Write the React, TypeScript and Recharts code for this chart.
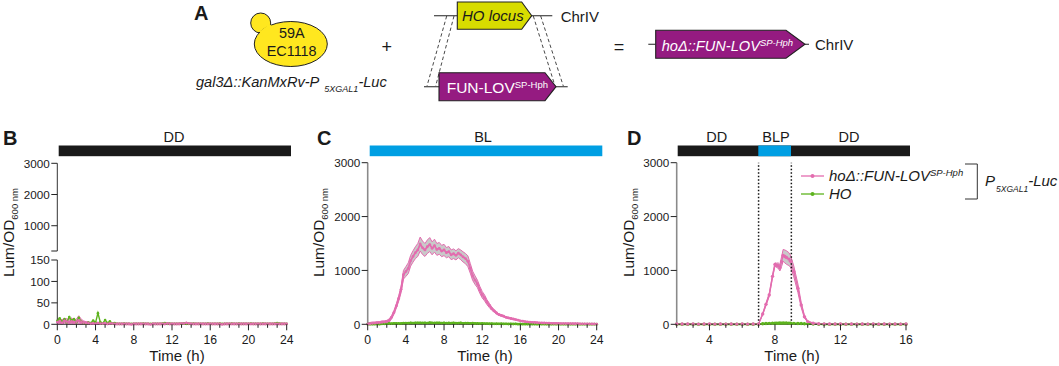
import React from 'react';
import { ComposedChart, Line, Area, XAxis, YAxis, ReferenceLine } from 'recharts';

const PINK = '#E36CAF';
const GREEN = '#5DB31E';
const BAND = '#C9C9C9';
const BLACK = '#1A1A1A';
const BLUE = '#009FE3';
const PURPLE = '#951B81';
const FONT = '"Liberation Sans", Arial, sans-serif';

const hoursB = [0,0.25,0.5,0.75,1,1.25,1.5,1.75,2,2.25,2.5,2.75,3,3.25,3.5,3.75,4,4.25,4.5,4.75,5,5.25,5.5,5.75,6,6.25,6.5,6.75,7,7.25,7.5,7.75,8,8.25,8.5,8.75,9,9.25,9.5,9.75,10,10.25,10.5,10.75,11,11.25,11.5,11.75,12,12.25,12.5,12.75,13,13.25,13.5,13.75,14,14.25,14.5,14.75,15,15.25,15.5,15.75,16,16.25,16.5,16.75,17,17.25,17.5,17.75,18,18.25,18.5,18.75,19,19.25,19.5,19.75,20,20.25,20.5,20.75,21,21.25,21.5,21.75,22,22.25,22.5,22.75,23,23.25,23.5,23.75,24];
const hoursC = hoursB;

const pinkB = [5,7,4,8,6,5,7,4,6,9,5,4,3,3,2,2,2,3,2,2,2,1,2,2,1,1,1,1,1,1,1,0,1,1,1,1,1,1,1,0,1,1,1,1,1,1,2,1,1,1,1,1,2,2,3,2,1,1,1,1,1,1,1,1,1,1,1,1,1,0,1,1,1,1,1,1,1,1,1,1,1,1,1,1,1,1,1,1,1,1,1,1,1,1,1,1,1];
const pinkErrB = [8,6,7,5,7,6,8,5,6,11,7,4,3,3,2,2,1,1,1,1,1,1,1,1,1,1,1,1,1,1,1,1,1,1,1,1,1,1,1,1,1,1,1,1,1,1,1,1,1,1,1,1,1,1,2,1,1,1,1,1,1,1,1,1,1,1,1,1,1,1,1,1,1,1,1,1,1,1,1,1,1,1,1,1,1,1,1,1,1,1,1,1,1,1,1,1,1];
const greenB = [8,14,6,12,5,17,9,12,5,15,6,3,2,4,3,9,4,26,5,2,10,3,7,2,3,1,1,1,2,1,1,1,1,1,1,1,2,1,1,1,1,1,1,1,2,3,1,2,1,1,1,1,1,2,1,1,1,2,1,1,1,1,1,2,1,1,1,1,2,1,1,1,1,2,1,1,2,1,1,1,1,2,1,1,1,1,2,1,1,1,1,2,3,2,1,1,1];

const pinkC = [5,12,18,22,28,30,38,42,48,70,130,220,340,480,650,920,980,1040,1180,1260,1330,1380,1490,1420,1380,1440,1480,1410,1460,1390,1410,1360,1380,1330,1350,1290,1310,1280,1320,1290,1250,1220,1170,1040,900,820,750,640,550,490,410,350,290,250,210,180,165,150,130,118,108,98,88,78,64,58,50,44,40,36,33,30,27,26,24,22,20,19,17,16,15,14,14,13,12,12,11,10,10,9,9,8,8,7,6,6,5];
const pinkErrC = [25,22,25,20,22,20,24,22,25,30,30,35,40,50,60,80,90,100,100,105,110,120,130,125,120,125,130,120,120,110,110,105,105,95,95,90,90,85,85,90,95,95,100,90,85,80,70,65,60,55,45,40,30,25,20,15,15,15,12,12,12,10,10,10,8,8,8,8,8,8,8,8,8,8,8,8,8,8,8,8,8,8,8,8,8,8,8,8,8,8,8,8,8,8,8,8,8];
const greenC = [2,3,3,4,5,5,8,10,12,15,14,16,18,15,17,20,22,20,25,22,26,25,28,24,26,22,30,25,24,26,28,22,25,20,24,22,26,20,22,25,18,20,22,18,20,15,16,14,16,12,13,10,12,9,10,8,10,7,8,6,8,6,7,5,6,5,5,4,6,4,5,3,5,4,4,3,4,3,4,3,3,3,3,2,3,2,3,2,2,2,3,2,2,2,2,2,2];

const hoursD = [2,2.33,2.67,3,3.33,3.67,4,4.33,4.67,5,5.33,5.67,6,6.33,6.67,7,7.25,7.45,7.65,7.85,8,8.1,8.2,8.3,8.4,8.5,8.6,8.7,8.85,8.95,9.15,9.4,9.6,9.8,10,10.33,10.67,11,11.33,11.67,12,12.33,12.67,13,13.33,13.67,14,14.33,14.67,15,15.33,15.67,16];
const pinkD = [6,5,6,5,4,5,6,4,5,4,5,4,5,4,5,6,190,370,546,890,1110,1095,1090,1050,1160,1280,1260,1240,1210,1170,980,670,360,140,50,20,10,8,6,5,5,4,5,4,5,4,5,4,5,4,5,4,5];
const pinkErrD = [3,3,3,3,3,3,3,3,3,3,3,3,3,3,3,3,15,25,30,30,30,40,50,60,90,110,120,125,120,110,100,80,50,25,10,5,3,3,3,3,3,3,3,3,3,3,3,3,3,3,3,3,3];
const greenD = [1,1,1,1,1,1,1,1,1,1,1,1,1,1,1,2,10,15,18,20,20,22,20,24,22,25,22,24,22,20,18,16,14,10,8,4,2,1,1,1,1,1,1,1,1,1,1,1,1,1,1,1,1];

const ticks24 = [0,1,2,3,4,5,6,7,8,9,10,11,12,13,14,15,16,17,18,19,20,21,22,23,24];
const ticks16 = [2,3,4,5,6,7,8,9,10,11,12,13,14,15,16];
const ticksMain = [0,1000,2000,3000];
const ticksBreakUpper = [190,1000,2000,3000];
const ticksBreakLower = [0,50,100,150];

const yLabels = ['Lum/OD', '600 nm'];
const xTitle = 'Time (h)';

const rows = (t: number[], p: number[], e: number[], g: number[]) =>
  t.map((h, i) => ({ h, pink: p[i], band: [Math.max(p[i] - e[i], 0), p[i] + e[i]], green: g[i] }));

const XTick = (p: any) => {
  const v = p.payload.value;
  const major = v % 4 === 0;
  return (
    <g>
      <line x1={p.x} x2={p.x} y1={p.y} y2={p.y + (major ? 6 : 3.5)} stroke="#222" strokeWidth={1} />
      {major && <text x={p.x} y={p.y + 20} textAnchor="middle" fontSize={12.2} fontFamily={FONT} fill={BLACK}>{v}</text>}
    </g>
  );
};
const YTick = (p: any) => {
  const v = p.payload.value;
  return (
    <g>
      <line x1={p.x - 6} x2={p.x} y1={p.y} y2={p.y} stroke="#222" strokeWidth={1} />
      {v !== 190 && <text x={p.x - 7.5} y={p.y + 4.3} textAnchor="end" fontSize={11.7} fontFamily={FONT} fill={BLACK}>{v}</text>}
    </g>
  );
};

type PanelProps = {
  xL: number; xR: number; yT: number; yB: number;
  domain: number[]; xTicks: number[]; yDomain: number[]; yTicks: number[];
  data?: any[]; axisColor: string; axisWidth: number; hideX?: boolean;
  bandFill?: string; dots?: number; lineW?: number; greenW?: number; vlines?: number[];
};

const Panel = ({ xL, xR, yT, yB, domain, xTicks, yDomain, yTicks, data, axisColor, axisWidth, hideX, bandFill, dots = 1.1, lineW = 1.4, greenW = 1.4, vlines = [] }: PanelProps) => {
  const left = Math.floor(xL) - 50;
  const top = Math.floor(yT) - 6;
  const w = Math.ceil(xR - left) + 16;
  const h = Math.ceil(yB - top) + 30;
  const below = h - (yB - top);
  return (
    <div style={{ position: 'absolute', left, top, width: w, height: h }}>
      <ComposedChart width={w} height={h} data={data ?? []}
        margin={{ left: 0, top: yT - top, right: left + w - xR, bottom: hideX ? below : 0 }}>
        <XAxis dataKey="h" type="number" domain={domain} ticks={xTicks} interval={0} hide={hideX} height={below}
          tick={(p: any) => <XTick {...p} />} tickLine={false} tickSize={0} tickMargin={0} stroke="#333" allowDataOverflow={!data} />
        <YAxis type="number" domain={yDomain} ticks={yTicks} interval={0} width={xL - left}
          tick={(p: any) => <YTick {...p} />} tickLine={false} tickSize={0} tickMargin={0}
          axisLine={{ stroke: axisColor, strokeWidth: axisWidth }} allowDataOverflow={!data} />
        {data && <Area dataKey="band" isAnimationActive={false} fill={bandFill ?? BAND} fillOpacity={1} stroke={PINK} strokeWidth={1} dot={false} activeDot={false} />}
        {data && <Line dataKey="green" isAnimationActive={false} stroke={GREEN} strokeWidth={greenW} dot={{ r: dots, fill: GREEN, stroke: 'none' }} activeDot={false} />}
        {data && <Line dataKey="pink" isAnimationActive={false} stroke={PINK} strokeWidth={lineW} dot={{ r: dots, fill: PINK, stroke: 'none' }} activeDot={false} />}
        {vlines.map((x) => <ReferenceLine key={x} x={x} stroke="#111" strokeWidth={1.5} strokeDasharray="1.5 2" />)}
      </ComposedChart>
    </div>
  );
};

const T = (p: any) => <text fontFamily={FONT} fill={BLACK} {...p} />;
const Pent = ({ l, s, t, y0, y1, fill }: any) => (
  <path d={`M${l},${y0} H${s} L${t},${(y0 + y1) / 2} L${s},${y1} H${l} Z`} fill={fill} stroke="#222" strokeWidth={1.1} />
);
const YLab = ({ x }: { x: number }) => (
  <text transform={`translate(${x},277) rotate(-90)`} fontFamily={FONT} fill={BLACK} fontSize={15.4}>
    {yLabels[0]}<tspan fontSize={9.5} dy={4}>{yLabels[1]}</tspan>
  </text>
);
const XLab = ({ x }: { x: number }) => <T x={x} y={360.5} textAnchor="middle" fontSize={15}>{xTitle}</T>;

const Overlay = () => (
  <svg width={1059} height={366} style={{ position: 'absolute', left: 0, top: 0, pointerEvents: 'none' }}>
    <T x={194} y={20} fontSize={20} fontWeight="bold">A</T>
    <T x={3} y={145} fontSize={20} fontWeight="bold">B</T>
    <T x={317} y={145} fontSize={20} fontWeight="bold">C</T>
    <T x={627} y={145} fontSize={20} fontWeight="bold">D</T>

    <circle cx={260.7} cy={23} r={10} fill="#FFE71F" stroke="#222" strokeWidth={1} />
    <ellipse cx={290.8} cy={44} rx={36.5} ry={22.5} fill="#FFE71F" stroke="#222" strokeWidth={1} />
    <path d="M259.5,31.5 L269.5,24 L276,30 L264,38 Z" fill="#FFE71F" stroke="none" />
    <T x={291.7} y={37.7} textAnchor="middle" fontSize={14.4}>59A</T>
    <T x={291.7} y={56} textAnchor="middle" fontSize={14.4}>EC1118</T>
    <T x={386.7} y={53} textAnchor="middle" fontSize={18}>+</T>
    <T x={196} y={87.3} fontSize={14.6} fontStyle="italic">gal3Δ::KanMxRv-P<tspan fontSize={9} dx={5} dy={5}>5XGAL1</tspan><tspan dy={-5}>-Luc</tspan></T>

    <g stroke="#222" strokeWidth={1.1} fill="none">
      <path d="M434,15.7 H457.3 M531.7,15.7 H552.3 M424,86.7 H439 M556,86.7 H567.7 M648.3,44.3 H655.7 M805,44.3 H809" />
    </g>
    <g stroke="#333" strokeWidth={0.9} strokeDasharray="3.5 2.5" fill="none">
      <path d="M446.7,16 L427,86 M454,16 L435.7,86 M533.3,16 L555,86 M540.7,16 L563.3,86" />
    </g>
    <Pent l={457.3} s={521.7} t={531.7} y0={2} y1={29.3} fill="#D8DC00" />
    <T x={462} y={20.7} fontSize={15} fontStyle="italic">HO locus</T>
    <T x={560.7} y={21.5} fontSize={15}>ChrIV</T>
    <Pent l={439} s={545} t={556} y0={72.7} y1={100.7} fill={PURPLE} />
    <text x={446.7} y={93.3} fontFamily={FONT} fontSize={15.5} fill="#fff">FUN-LOV<tspan fontSize={9.5} dy={-5.5}>SP-Hph</tspan></text>
    <T x={619} y={53} textAnchor="middle" fontSize={18}>=</T>
    <Pent l={655.7} s={786} t={805} y0={30.3} y1={58.3} fill={PURPLE} />
    <text x={661.7} y={50.7} fontFamily={FONT} fontSize={14.6} fontStyle="italic" fill="#fff">hoΔ::FUN-LOV<tspan fontSize={9.5} dy={-5}>SP-Hph</tspan></text>
    <T x={815} y={50} fontSize={15}>ChrIV</T>

    <rect x={58.7} y={145.5} width={232.3} height={10.7} fill={BLACK} />
    <T x={174} y={142.3} textAnchor="middle" fontSize={14.5}>DD</T>
    <rect x={369.7} y={145.5} width={232.6} height={10.7} fill={BLUE} />
    <T x={483} y={142.3} textAnchor="middle" fontSize={14.5}>BL</T>
    <rect x={677.7} y={145.5} width={232.3} height={10.7} fill={BLACK} />
    <rect x={758.3} y={145.5} width={32.7} height={10.7} fill={BLUE} />
    <T x={716.7} y={142.3} textAnchor="middle" fontSize={14.5}>DD</T>
    <T x={776} y={142.3} textAnchor="middle" fontSize={14.5}>BLP</T>
    <T x={849} y={142.3} textAnchor="middle" fontSize={14.5}>DD</T>

    <YLab x={13.5} /><YLab x={324} /><YLab x={634} />
    <XLab x={177} /><XLab x={485} /><XLab x={792} />

    <line x1={801} x2={824} y1={176} y2={176} stroke={PINK} strokeWidth={1.3} />
    <circle cx={812.5} cy={176} r={2} fill={PINK} />
    <line x1={801} x2={824} y1={194} y2={194} stroke={GREEN} strokeWidth={1.3} />
    <circle cx={812.5} cy={194} r={2} fill={GREEN} />
    <T x={829} y={180.7} fontSize={15} fontStyle="italic">hoΔ::FUN-LOV<tspan fontSize={9.5} dy={-5}>SP-Hph</tspan></T>
    <T x={829} y={199} fontSize={15} fontStyle="italic">HO</T>
    <path d="M965,164 H977.3 V199 H965" fill="none" stroke="#333" strokeWidth={1} />
    <T x={985} y={186} fontSize={15} fontStyle="italic">P<tspan fontSize={8.5} dx={1} dy={5.7}>5XGAL1</tspan><tspan dy={-5.7}>-Luc</tspan></T>
  </svg>
);

export default function App() {
  return (
    <div style={{ position: 'absolute', left: 0, top: 0, width: 1059, height: 366, background: '#fff', overflow: 'hidden' }}>
      <Panel xL={57.3} xR={286.7} yT={163.3} yB={251} domain={[0, 24]} xTicks={ticks24} yDomain={[190, 3000]} yTicks={ticksBreakUpper} axisColor="#333" axisWidth={1} hideX />
      <Panel xL={57.3} xR={286.7} yT={260} yB={324.3} domain={[0, 24]} xTicks={ticks24} yDomain={[0, 150]} yTicks={ticksBreakLower} axisColor="#333" axisWidth={1}
        data={rows(hoursB, pinkB, pinkErrB, greenB)} bandFill="#E9A6CE" dots={1.3} lineW={2.6} greenW={1.4} />
      <Panel xL={367.7} xR={596.7} yT={162.7} yB={324.3} domain={[0, 24]} xTicks={ticks24} yDomain={[0, 3000]} yTicks={ticksMain} axisColor="#8A8A8A" axisWidth={1.6}
        data={rows(hoursC, pinkC, pinkErrC, greenC)} dots={1.4} lineW={1.8} greenW={2.2} />
      <Panel xL={676.7} xR={906} yT={162.7} yB={324.3} domain={[2, 16]} xTicks={ticks16} yDomain={[0, 3000]} yTicks={ticksMain} axisColor="#8A8A8A" axisWidth={1.6}
        data={rows(hoursD, pinkD, pinkErrD, greenD)} dots={1.7} lineW={1.3} greenW={1.8} vlines={[7, 9]} />
      <Overlay />
    </div>
  );
}
